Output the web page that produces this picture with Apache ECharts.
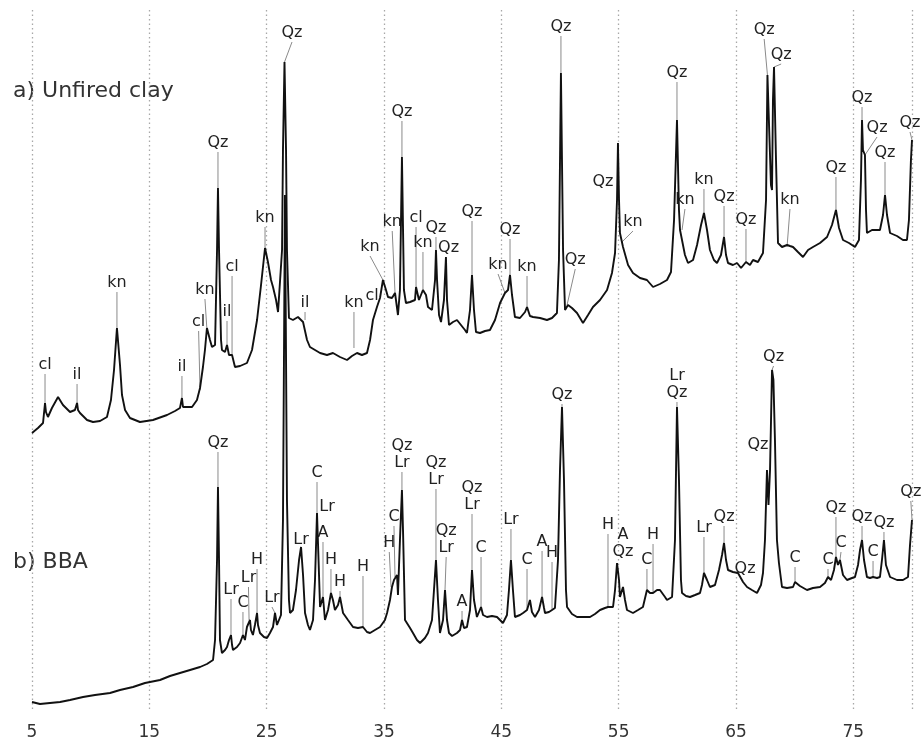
<!DOCTYPE html>
<html lang="en">
<head>
  <meta charset="UTF-8" />
  <title>XRD patterns</title>
  <script src="https://cdnjs.cloudflare.com/ajax/libs/echarts/6.0.0/echarts.min.js"></script>
  <style>
    body { margin: 0; background: #fff; }
    #main { width: 922px; height: 744px; }
  </style>
</head>
<body>
  <div id="main"></div>
  <script>
    // 2theta (deg), intensity (arbitrary, offset so both traces share one axis)
    const clayTrace = [
      [5.00, 279], [5.51, 284], [5.94, 289], [6.11, 309], [6.19, 300], [6.36, 295], [6.70, 304], [7.22, 315],
      [7.64, 307], [8.24, 300], [8.66, 302], [8.84, 309], [8.92, 302], [9.09, 299], [9.69, 292], [10.20, 290],
      [10.80, 291], [11.39, 295], [11.73, 312], [11.99, 342], [12.24, 384], [12.50, 347], [12.67, 317], [12.93, 302],
      [13.35, 294], [14.20, 290], [15.31, 292], [16.51, 297], [17.19, 301], [17.61, 304], [17.78, 314], [17.87, 305],
      [18.64, 305], [19.06, 312], [19.32, 324], [19.57, 345], [19.74, 362], [19.91, 384], [20.17, 372], [20.34, 365],
      [20.60, 367], [20.77, 462], [20.85, 524], [20.94, 462], [21.11, 372], [21.19, 362], [21.45, 360], [21.62, 367],
      [21.79, 357], [22.05, 357], [22.30, 345], [22.73, 346], [23.32, 349], [23.75, 362], [24.18, 392], [24.52, 427],
      [24.86, 464], [25.11, 450], [25.37, 432], [25.54, 425], [25.80, 412], [25.97, 400], [26.14, 402], [26.31, 462],
      [26.39, 562], [26.52, 650], [26.65, 562], [26.73, 462], [26.90, 394], [27.24, 392], [27.67, 395], [28.10, 390],
      [28.27, 392], [28.44, 372], [28.69, 365], [29.12, 362], [29.55, 359], [30.14, 357], [30.65, 359], [31.25, 355],
      [31.85, 352], [32.27, 356], [32.70, 359], [33.12, 357], [33.55, 359], [33.81, 372], [34.06, 392], [34.40, 405],
      [34.66, 414], [34.91, 432], [35.17, 422], [35.34, 415], [35.68, 414], [35.94, 419], [36.19, 397], [36.36, 422],
      [36.53, 555], [36.70, 422], [36.87, 409], [37.22, 410], [37.64, 412], [37.73, 425], [37.98, 412], [38.32, 422],
      [38.58, 417], [38.75, 405], [39.09, 402], [39.35, 432], [39.43, 462], [39.52, 432], [39.69, 397], [39.86, 390],
      [40.11, 412], [40.28, 455], [40.37, 412], [40.54, 387], [40.88, 390], [41.22, 392], [41.56, 387], [41.90, 382],
      [42.07, 379], [42.33, 402], [42.50, 437], [42.67, 402], [42.84, 380], [43.18, 379], [43.61, 381], [44.03, 382],
      [44.46, 392], [44.89, 409], [45.31, 419], [45.57, 422], [45.74, 437], [45.91, 417], [46.16, 395], [46.59, 394],
      [47.02, 400], [47.19, 405], [47.44, 396], [47.70, 395], [48.30, 394], [48.89, 392], [49.32, 394], [49.74, 399],
      [49.91, 452], [50.08, 639], [50.26, 462], [50.43, 402], [50.68, 407], [51.02, 404], [51.45, 399], [51.96, 389],
      [52.39, 397], [52.81, 405], [53.41, 412], [54.01, 422], [54.43, 439], [54.69, 459], [54.86, 512], [54.94, 569],
      [55.03, 512], [55.11, 479], [55.37, 465], [55.80, 447], [56.22, 439], [56.82, 434], [57.41, 432], [57.93, 425],
      [58.52, 428], [59.12, 432], [59.46, 440], [59.72, 492], [59.97, 592], [60.14, 502], [60.23, 482], [60.40, 482],
      [60.65, 457], [60.91, 449], [61.34, 452], [61.68, 467], [62.02, 487], [62.27, 499], [62.53, 482], [62.78, 462],
      [63.12, 452], [63.38, 449], [63.72, 457], [63.98, 475], [64.15, 457], [64.32, 449], [64.74, 447], [65.09, 449],
      [65.43, 444], [65.85, 450], [66.19, 447], [66.45, 452], [66.87, 450], [67.30, 459], [67.56, 512], [67.68, 637],
      [67.98, 527], [68.07, 522], [68.15, 612], [68.24, 645], [68.32, 644], [68.41, 552], [68.58, 469], [68.92, 465],
      [69.35, 467], [69.60, 466], [69.86, 465], [70.28, 460], [70.71, 455], [71.14, 462], [71.56, 465], [72.16, 469],
      [72.76, 475], [73.18, 487], [73.52, 502], [73.78, 484], [74.12, 472], [74.63, 469], [75.14, 465], [75.48, 472],
      [75.65, 532], [75.74, 592], [75.82, 562], [75.99, 557], [76.08, 502], [76.16, 479], [76.59, 482], [77.27, 482],
      [77.53, 497], [77.70, 517], [77.87, 497], [78.13, 479], [78.72, 476], [79.23, 472], [79.57, 472], [79.74, 492],
      [79.91, 552], [80.00, 572]
    ];

    const bbaTrace = [
      [5.00, 10], [5.68, 8], [6.53, 9], [7.39, 10], [8.24, 12], [9.35, 15], [10.37, 17], [11.65, 19],
      [12.50, 22], [13.61, 25], [14.63, 29], [15.91, 32], [16.76, 36], [17.61, 39], [18.47, 42], [19.32, 45],
      [19.91, 48], [20.43, 52], [20.60, 72], [20.77, 152], [20.85, 225], [20.94, 152], [21.02, 72], [21.19, 59],
      [21.45, 62], [21.62, 65], [21.79, 72], [21.96, 77], [22.05, 67], [22.13, 62], [22.47, 65], [22.73, 69],
      [22.98, 77], [23.15, 72], [23.32, 85], [23.58, 92], [23.66, 82], [23.83, 77], [24.00, 87], [24.18, 99],
      [24.26, 87], [24.43, 79], [24.77, 75], [25.03, 74], [25.28, 79], [25.54, 85], [25.71, 99], [25.88, 87],
      [26.05, 87], [26.22, 97], [26.39, 192], [26.56, 517], [26.73, 212], [26.90, 112], [26.99, 99], [27.24, 102],
      [27.50, 122], [27.76, 152], [27.93, 165], [28.10, 137], [28.27, 99], [28.52, 87], [28.69, 82], [28.95, 92],
      [29.12, 132], [29.29, 199], [29.38, 167], [29.55, 105], [29.80, 115], [29.97, 92], [30.23, 102], [30.48, 119],
      [30.65, 112], [30.82, 102], [31.08, 107], [31.25, 115], [31.51, 99], [31.93, 92], [32.36, 85], [32.78, 84],
      [33.21, 85], [33.55, 80], [33.81, 79], [34.23, 82], [34.66, 85], [35.08, 92], [35.26, 99], [35.51, 112],
      [35.68, 125], [35.85, 132], [36.11, 137], [36.19, 117], [36.36, 172], [36.53, 222], [36.62, 182], [36.79, 92],
      [37.22, 84], [37.47, 79], [37.81, 72], [38.07, 69], [38.49, 74], [38.75, 79], [39.09, 92], [39.26, 122],
      [39.43, 152], [39.60, 112], [39.77, 79], [40.03, 92], [40.20, 122], [40.37, 92], [40.54, 79], [40.80, 76],
      [41.22, 79], [41.48, 82], [41.65, 92], [41.82, 84], [42.07, 85], [42.33, 102], [42.50, 142], [42.67, 112],
      [42.92, 95], [43.27, 105], [43.44, 97], [43.78, 95], [44.20, 96], [44.63, 95], [45.14, 89], [45.48, 97],
      [45.65, 122], [45.82, 152], [45.99, 122], [46.16, 95], [46.59, 97], [46.85, 99], [47.19, 102], [47.44, 112],
      [47.61, 100], [47.87, 95], [48.21, 102], [48.47, 115], [48.64, 104], [48.72, 99], [49.06, 100], [49.32, 102],
      [49.57, 104], [49.83, 152], [50.00, 242], [50.17, 305], [50.34, 232], [50.51, 122], [50.60, 105], [51.02, 98],
      [51.45, 95], [51.96, 95], [52.56, 95], [52.98, 98], [53.41, 102], [53.83, 104], [54.09, 105], [54.52, 105],
      [54.69, 122], [54.86, 149], [55.03, 132], [55.11, 115], [55.37, 125], [55.54, 112], [55.71, 102], [56.22, 99],
      [56.65, 102], [57.07, 105], [57.41, 122], [57.67, 119], [57.93, 119], [58.27, 122], [58.52, 122], [58.95, 115],
      [59.12, 112], [59.55, 115], [59.80, 172], [59.97, 305], [60.14, 232], [60.31, 132], [60.40, 119], [60.74, 116],
      [61.08, 115], [61.51, 117], [61.93, 119], [62.10, 127], [62.27, 139], [62.53, 132], [62.78, 125], [63.21, 127],
      [63.55, 142], [63.81, 157], [63.98, 169], [64.15, 152], [64.32, 142], [64.74, 140], [65.17, 139], [65.60, 130],
      [65.94, 125], [66.36, 122], [66.79, 119], [67.13, 127], [67.30, 139], [67.47, 172], [67.64, 242], [67.77, 207],
      [67.90, 242], [68.07, 342], [68.19, 332], [68.32, 272], [68.49, 172], [68.66, 149], [68.92, 125], [69.35, 124],
      [69.86, 125], [70.03, 130], [70.45, 126], [71.05, 122], [71.56, 124], [72.16, 125], [72.58, 129], [72.84, 135],
      [73.10, 132], [73.35, 142], [73.52, 155], [73.69, 147], [73.86, 152], [74.12, 137], [74.46, 132], [74.89, 134],
      [75.14, 135], [75.40, 147], [75.57, 162], [75.74, 172], [75.91, 152], [76.16, 135], [76.42, 134], [76.68, 135],
      [77.02, 134], [77.27, 135], [77.44, 152], [77.61, 172], [77.78, 147], [78.13, 135], [78.72, 132], [79.23, 132],
      [79.66, 135], [79.83, 167], [80.00, 192]
    ];

    // [phase, label 2theta, label intensity, peak 2theta, peak intensity]
    const clayPeaks = [
      ['cl', 6.11, 339, 6.11, 309], ['il', 8.84, 329, 8.84, 309], ['kn', 12.24, 421, 12.24, 384],
      ['il', 17.78, 337, 17.78, 314], ['cl', 19.2, 382, 19.32, 322], ['kn', 19.74, 414, 19.91, 382],
      ['Qz', 20.85, 561, 20.85, 524], ['il', 21.62, 392, 21.62, 365], ['cl', 22.05, 437, 22.05, 357],
      ['kn', 24.86, 486, 24.86, 464], ['Qz', 27.16, 671, 26.52, 650], ['il', 28.27, 401, 28.27, 392],
      ['kn', 32.44, 401, 32.44, 364], ['cl', 33.98, 408, null, null], ['kn', 33.81, 457, 34.91, 432],
      ['kn', 35.7, 482, 35.94, 419], ['Qz', 36.53, 592, 36.53, 555], ['cl', 37.73, 486, 37.73, 425],
      ['kn', 38.32, 461, 38.32, 422], ['Qz', 39.43, 476, 39.43, 462], ['Qz', 40.5, 456, 40.28, 455],
      ['Qz', 42.50, 492, 42.50, 437], ['kn', 44.72, 439, 45.31, 419], ['Qz', 45.74, 474, 45.74, 437],
      ['kn', 47.19, 437, 47.19, 402], ['Qz', 50.08, 677, 50.08, 639], ['Qz', 51.3, 444, 50.60, 407],
      ['Qz', 53.66, 522, null, null], ['kn', 56.22, 482, 55.28, 470], ['Qz', 59.97, 631, 59.97, 592],
      ['kn', 60.65, 504, 60.40, 482], ['kn', 62.27, 524, 62.27, 499], ['Qz', 63.98, 507, 63.98, 475],
      ['Qz', 65.85, 484, 65.85, 450], ['Qz', 67.4, 674, 67.68, 637], ['Qz', 68.85, 649, 68.24, 645],
      ['kn', 69.6, 504, 69.35, 465], ['Qz', 73.52, 536, 73.52, 502], ['Qz', 75.74, 606, 75.74, 592],
      ['Qz', 77.02, 576, 75.99, 557], ['Qz', 77.70, 551, 77.70, 517], ['Qz', 79.83, 581, 80.00, 572]
    ];

    const bbaPeaks = [
      ['Qz', 20.85, 261, 20.85, 225], ['Lr', 21.96, 114, 21.96, 77], ['C', 22.98, 101, 22.98, 77],
      ['Lr', 23.45, 126, 23.50, 92], ['H', 24.18, 144, 24.18, 99], ['Lr', 25.45, 106, 25.71, 99],
      ['Lr', 27.93, 164, 27.93, 165], ['C', 29.29, 231, 29.29, 199], ['Lr', 30.14, 197, null, null],
      ['A', 29.80, 171, 29.80, 115], ['H', 30.48, 144, 30.48, 119], ['H', 31.25, 122, 31.25, 115],
      ['H', 33.21, 137, 33.21, 85], ['C', 35.85, 187, 35.94, 135], ['H', 35.45, 161, 35.6, 125],
      ['Qz\nLr', 36.53, 241, 36.53, 222], ['Qz\nLr', 39.43, 224, 39.43, 152], ['Qz\nLr', 40.3, 156, 40.20, 122],
      ['A', 41.65, 102, 41.65, 92], ['Qz\nLr', 42.50, 199, 42.50, 142], ['C', 43.27, 156, 43.27, 105],
      ['Lr', 45.82, 184, 45.82, 152], ['C', 47.19, 144, 47.19, 102], ['A', 48.47, 162, 48.47, 115],
      ['H', 49.32, 151, 49.32, 102], ['Qz', 50.17, 309, 50.17, 305], ['H', 54.09, 179, 54.09, 105],
      ['A\nQz', 55.37, 152, null, null], ['C', 57.41, 144, 57.41, 122], ['H', 57.93, 169, 57.93, 119],
      ['Lr\nQz', 59.97, 311, 59.97, 305], ['Lr', 62.27, 176, 62.27, 139], ['Qz', 63.98, 187, 63.98, 169],
      ['Qz', 65.77, 135, null, null], ['Qz', 66.87, 259, null, null], ['Qz', 68.2, 347, 68.07, 342],
      ['C', 70.03, 146, 70.03, 130], ['C', 72.84, 144, 72.84, 135], ['Qz', 73.52, 196, 73.52, 155],
      ['C', 73.95, 161, 73.86, 152], ['Qz', 75.74, 187, 75.74, 172], ['C', 76.68, 152, 76.68, 135],
      ['Qz', 77.61, 181, 77.61, 172], ['Qz', 79.9, 212, 80.00, 192]
    ];

    const sampleNames = ['a) Unfired clay', 'b) BBA'];

    const FONT = '"DejaVu Sans", Verdana, sans-serif';
    const chart = echarts.init(document.getElementById('main'));

    function peakSeries(list) {
      return {
        type: 'custom',
        z: 1,
        clip: false,
        silent: true,
        encode: { x: 0, y: 1 },
        data: list.map(p => [p[1], p[2], p[3] == null ? NaN : p[3], p[4] == null ? NaN : p[4]]),
        renderItem: function (params, api) {
          const text = list[params.dataIndex][0];
          const lab = api.coord([api.value(0), api.value(1)]);
          const children = [{
            type: 'text',
            style: {
              text: text, x: lab[0], y: lab[1],
              align: 'center', verticalAlign: 'bottom',
              font: '16px ' + FONT, fill: '#222', lineHeight: 17
            }
          }];
          const tx = api.value(2), ty = api.value(3);
          if (!isNaN(tx)) {
            const tip = api.coord([tx, ty]);
            if (tip[1] > lab[1] + 1) {
              children.push({
                type: 'line',
                shape: { x1: lab[0], y1: lab[1] + 1, x2: tip[0], y2: tip[1] },
                style: { stroke: '#8a8a8a', lineWidth: 1 }
              });
            }
          }
          return { type: 'group', children: children };
        }
      };
    }

    chart.setOption({
      animation: false,
      grid: { left: 32, right: 10, top: 10, bottom: 32 },
      xAxis: {
        type: 'value', min: 5, max: 80, interval: 10,
        axisLine: { show: false }, axisTick: { show: false },
        axisLabel: { showMaxLabel: false, fontSize: 17, color: '#333', margin: 12, fontFamily: FONT },
        splitLine: { show: true, lineStyle: { color: '#a8a8a8', type: [1.5, 3], width: 1.3 } }
      },
      yAxis: { type: 'value', min: 0, max: 702, show: false, splitLine: { show: false } },
      graphic: sampleNames.map((name, i) => ({
        type: 'text',
        left: 13,
        top: i === 0 ? 80 : 551,
        style: { text: name, font: '22px ' + FONT, fill: '#333' }
      })),
      series: [
        peakSeries(clayPeaks),
        peakSeries(bbaPeaks),
        {
          name: 'Unfired clay', type: 'line', z: 3, data: clayTrace, symbol: 'none',
          lineStyle: { color: '#111', width: 1.9 }
        },
        {
          name: 'BBA', type: 'line', z: 3, data: bbaTrace, symbol: 'none',
          lineStyle: { color: '#111', width: 1.9 }
        }
      ]
    });
  </script>
</body>
</html>
